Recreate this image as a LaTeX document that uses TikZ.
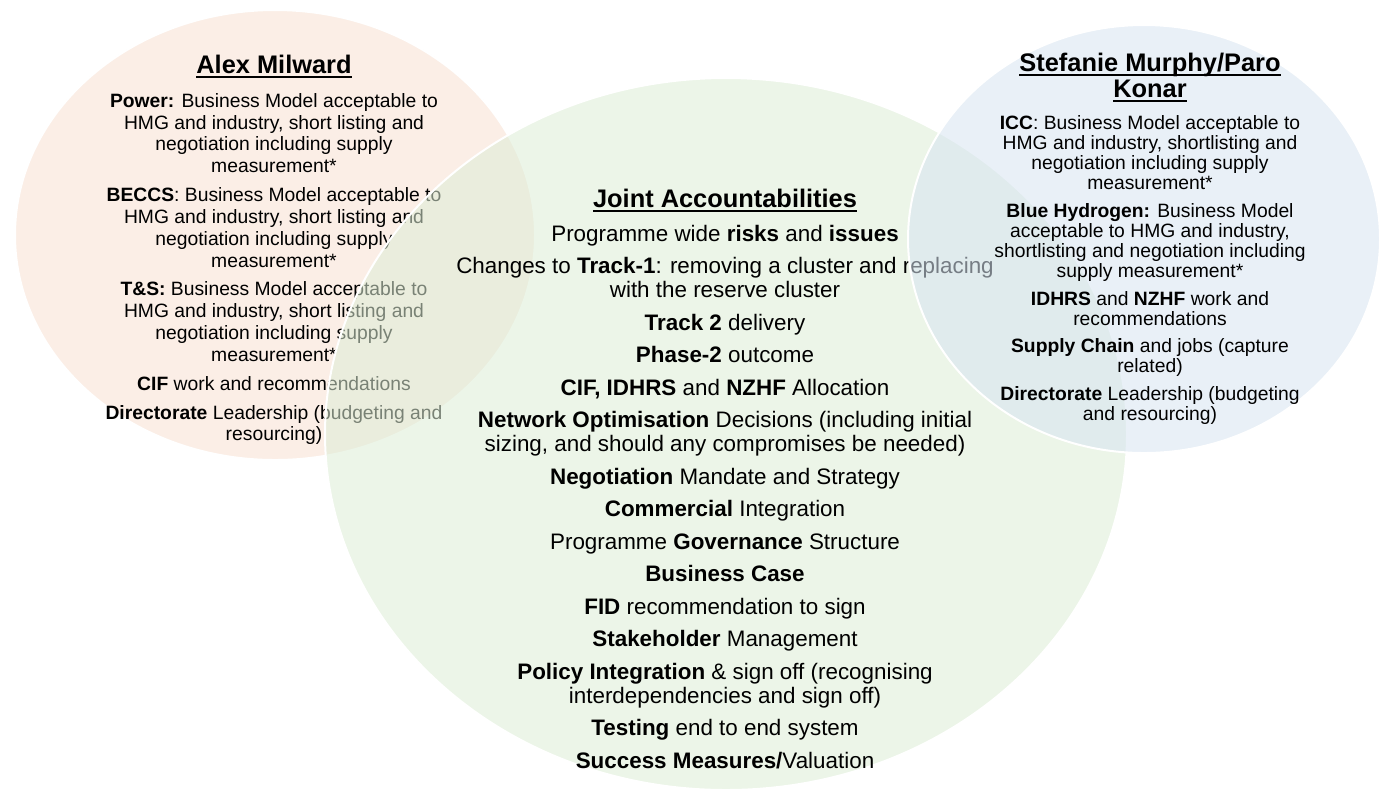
\documentclass[tikz,border=0pt]{standalone}
\usepackage{fontspec}
\setmainfont{Liberation Sans}
% underlined heading text with a heavier rule set just below the baseline
\newcommand\headrule[1]{\setbox0\hbox{#1}\rlap{\rule[-2.5pt]{\wd0}{0.95pt}}\box0}
\begin{document}
\begin{tikzpicture}[x=0.5pt,y=-0.5pt]
\definecolor{peach}{RGB}{251,238,230}
\definecolor{sage}{RGB}{221,237,214}
\definecolor{sky}{RGB}{215,228,242}
\tikzset{
  ring/.style={draw=white, line width=1pt},
  heading/.style={align=center, inner sep=0pt, anchor=north,
    font=\bfseries\fontsize{12.7}{13}\selectfont},
  lefttxt/.style={align=center, inner sep=0pt, anchor=north,
    font=\fontsize{9.65}{10.9}\selectfont},
  righttxt/.style={align=center, inner sep=0pt, anchor=north,
    font=\fontsize{9.65}{10.1}\selectfont},
  midtxt/.style={align=center, inner sep=0pt, anchor=north,
    font=\fontsize{11.2}{12}\selectfont},
}
\useasboundingbox (0,0) rectangle (1384,794);
\fill[white] (0,0) rectangle (1384,794);

% left set
\path[ring, fill=peach] (275,235) ellipse [x radius=260, y radius=225];
\node[heading] (milwardhead) at (274,54.5) {\headrule{Alex Milward}};
\node[lefttxt] (milwardbody) at (274,93) {%
\textbf{Power:} Business Model acceptable to\\
HMG and industry, short listing and\\
negotiation including supply\\
measurement*\\[3.55pt]
\textbf{BECCS}: Business Model acceptable to\\
HMG and industry, short listing and\\
negotiation including supply\\
measurement*\\[3.55pt]
\textbf{T\&S:} Business Model acceptable to\\
HMG and industry, short listing and\\
negotiation including supply\\
measurement*\\[3.55pt]
\textbf{CIF} work and recommendations\\[3.55pt]
\textbf{Directorate} Leadership (budgeting and\\
resourcing)};

% shared set
\path[ring, fill=sage, fill opacity=0.55] (726,434) ellipse [x radius=401, y radius=356];
\node[heading] (jointhead) at (725,188.5) {\headrule{Joint Accountabilities}};
\node[midtxt] (jointbody) at (725,224.6) {%
Programme wide \textbf{risks} and \textbf{issues}\\[4.25pt]
Changes to \textbf{Track-1}: removing a cluster and replacing\\
with the reserve cluster\\[4.25pt]
\textbf{Track 2} delivery\\[4.25pt]
\textbf{Phase-2} outcome\\[4.25pt]
\textbf{CIF, IDHRS} and \textbf{NZHF} Allocation\\[4.25pt]
\textbf{Network Optimisation} Decisions (including initial\\
sizing, and should any compromises be needed)\\[4.25pt]
\textbf{Negotiation} Mandate and Strategy\\[4.25pt]
\textbf{Commercial} Integration\\[4.25pt]
Programme \textbf{Governance} Structure\\[4.25pt]
\textbf{Business Case}\\[4.25pt]
\textbf{FID} recommendation to sign\\[4.25pt]
\textbf{Stakeholder} Management\\[4.25pt]
\textbf{Policy Integration} \& sign off (recognising\\
interdependencies and sign off)\\[4.25pt]
\textbf{Testing} end to end system\\[4.25pt]
\textbf{Success Measures/}Valuation};

% right set
\path[ring, fill=sky, fill opacity=0.55] (1144,239) ellipse [x radius=236, y radius=214];
\node[heading] (murphyhead) at (1150,52.5) {\headrule{Stefanie Murphy/Paro}\\\headrule{Konar}};
\node[righttxt] (murphybody) at (1150,115) {%
\textbf{ICC}: Business Model acceptable to\\
HMG and industry, shortlisting and\\
negotiation including supply\\
measurement*\\[3.55pt]
\textbf{Blue Hydrogen:} Business Model\\
acceptable to HMG and industry,\\
shortlisting and negotiation including\\
supply measurement*\\[3.55pt]
\textbf{IDHRS} and \textbf{NZHF} work and\\
recommendations\\[3.55pt]
\textbf{Supply Chain} and jobs (capture\\
related)\\[3.55pt]
\textbf{Directorate} Leadership (budgeting\\
and resourcing)};
\end{tikzpicture}
\end{document}
